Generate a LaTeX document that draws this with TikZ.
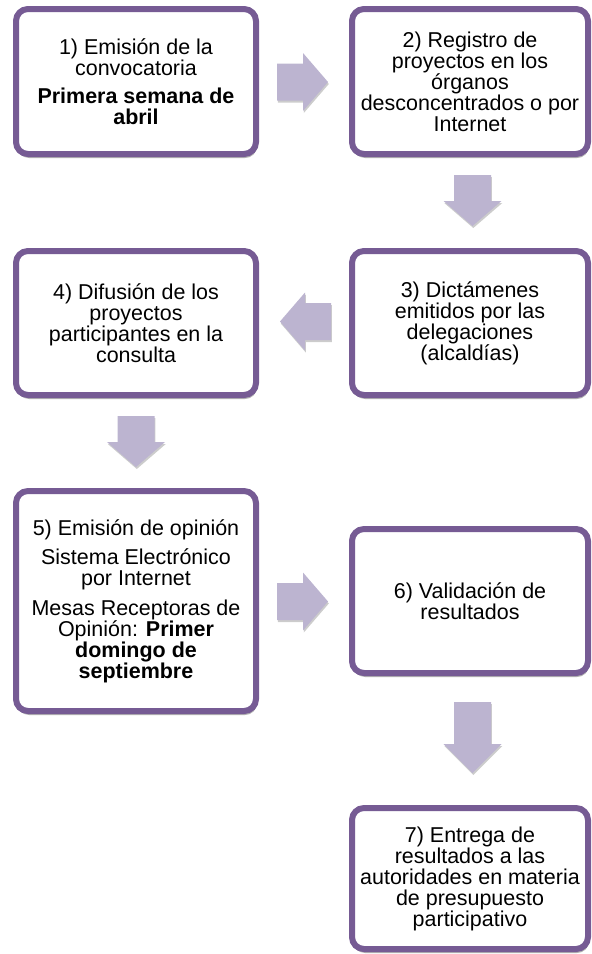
\documentclass[tikz,border=0pt]{standalone}
\usepackage{fontspec}
\setmainfont{Liberation Sans}
\usetikzlibrary{calc,shadows}
\definecolor{bord}{RGB}{118,91,148}
\definecolor{arrowfill}{RGB}{188,180,208}
\begin{document}
\begin{tikzpicture}[x=0.75pt,y=-0.75pt,
  box/.style={draw=bord, line width=4.5pt, rounded corners=9pt, fill=white,
    align=center, inner sep=0pt, text=black,
    font=\fontsize{16.1pt}{15.75pt}\selectfont,
    drop shadow={shadow xshift=0.8pt, shadow yshift=-3pt, opacity=0.3, fill=black}},
  lbox/.style={box, minimum width=180pt},
  rbox/.style={box, minimum width=177pt},
  pics/barrow/.style 2 args={code={
    \fill[arrowfill, drop shadow={shadow xshift=0.6pt, shadow yshift=-1.5pt, opacity=0.2, fill=black}]
      ({-#1/2},-18.5) -- ({#1/2-#2},-18.5) -- ({#1/2-#2},-29) -- ({#1/2},0)
      -- ({#1/2-#2},29) -- ({#1/2-#2},18.5) -- ({-#1/2},18.5) -- cycle;
  }}
]
\useasboundingbox (0,0) rectangle (592,954);

\node[lbox, minimum height=108.75pt] (b1) at (136,81.5)
  {1) Emisión de la\\convocatoria\\[5pt]\textbf{Primera semana de}\\\textbf{abril}};
\node[rbox, minimum height=108.75pt] (b2) at (470,81.5)
  {2) Registro de\\proyectos en los\\órganos\\desconcentrados o por\\Internet};
\node[rbox, minimum height=108pt] (b3) at (470,323)
  {3) Dictámenes\\emitidos por las\\delegaciones\\(alcaldías)};
\node[lbox, minimum height=108pt] (b4) at (136,323)
  {4) Difusión de los\\proyectos\\participantes en la\\consulta};
\node[lbox, minimum height=165pt] (b5) at (136,601)
  {5) Emisión de opinión\\[6.5pt]Sistema Electrónico\\por Internet\\[6.5pt]Mesas Receptoras de\\Opinión: \textbf{Primer}\\\textbf{domingo de}\\\textbf{septiembre}};
\node[rbox, minimum height=108pt] (b6) at (470,601)
  {6) Validación de\\resultados};
\node[rbox, minimum height=105.75pt] (b7) at (470,878.5)
  {7) Entrega de\\resultados a las\\autoridades en materia\\de presupuesto\\participativo};

\coordinate (a12) at ($($(b1.east)!0.5!(b2.west)$)+(-1.5,0.5)$);
\coordinate (a23) at ($($(b2.south)!0.5!(b3.north)$)+(2.5,-2)$);
\coordinate (a34) at ($($(b3.west)!0.5!(b4.east)$)+(1.5,-1.5)$);
\coordinate (a45) at ($($(b4.south)!0.5!(b5.north)$)+(0,-1.5)$);
\coordinate (a56) at ($($(b5.east)!0.5!(b6.west)$)+(-1.5,0.5)$);
\coordinate (a67) at ($($(b6.south)!0.5!(b7.north)$)+(2.5,-3)$);

\pic at (a12) {barrow={51}{25}};
\pic[rotate=-90] at (a23) {barrow={51}{25}};
\pic[rotate=180] at (a34) {barrow={51}{25}};
\pic[rotate=-90] at (a45) {barrow={51}{25}};
\pic at (a56) {barrow={51}{25}};
\pic[rotate=-90] at (a67) {barrow={71}{29}};
\end{tikzpicture}
\end{document}
